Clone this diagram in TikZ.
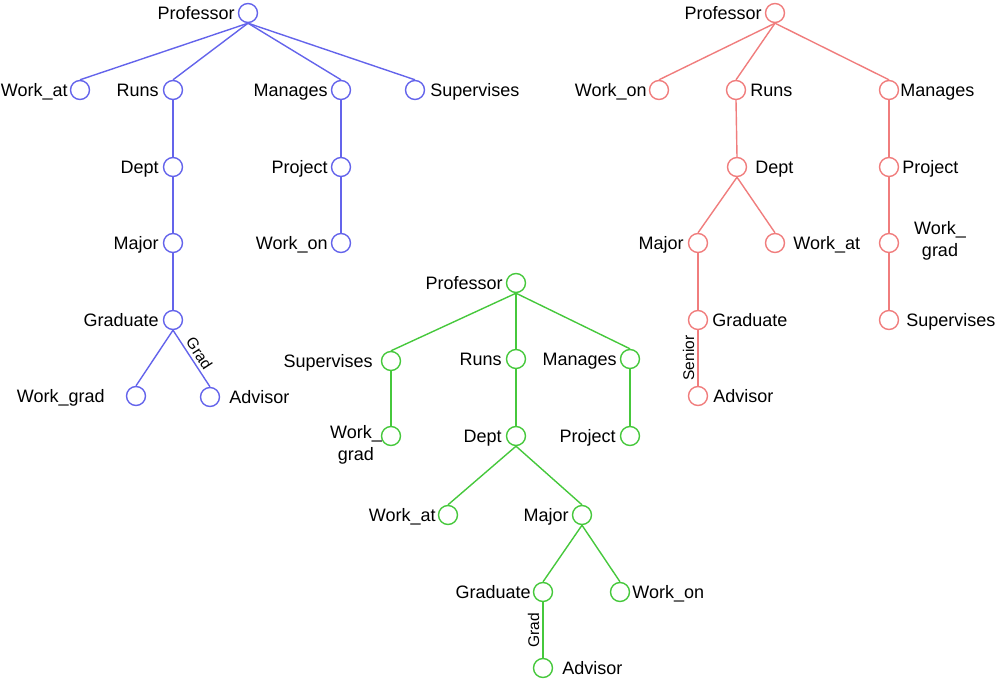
\documentclass[tikz,border=0pt]{standalone}
\usepackage{fontspec}
\setmainfont{Liberation Sans}
\begin{document}
\begin{tikzpicture}[x=1pt,y=-1pt,
  vnode/.style={circle,draw,line width=1.4pt,minimum size=19pt,inner sep=0pt},
  edge/.style={line width=1.4pt},
  lbl/.style={inner sep=0pt,font=\fontsize{18}{22}\selectfont,text=black},
  lL/.style={lbl,anchor=base east},
  lR/.style={lbl,anchor=base west},
  small/.style={inner sep=3pt,font=\fontsize{15.5}{18}\selectfont,text=black}]
\definecolor{bcol}{RGB}{100,100,235}
\definecolor{rcol}{RGB}{240,125,125}
\definecolor{gcol}{RGB}{70,200,60}
\useasboundingbox (0,0) rectangle (997,680);

% ---------------- Blue tree ----------------
\begin{scope}
\tikzset{vnode/.append style={draw=bcol},edge/.append style={draw=bcol}}
\node[vnode] (bP) at (248,13) {};
\node[vnode] (bWa) at (80,90) {};
\node[vnode] (bR) at (173,90) {};
\node[vnode] (bM) at (341,90) {};
\node[vnode] (bS) at (415,90) {};
\node[vnode] (bD) at (173,167) {};
\node[vnode] (bPr) at (341,167) {};
\node[vnode] (bMa) at (173,243) {};
\node[vnode] (bWo) at (341,243) {};
\node[vnode] (bG) at (173,320) {};
\node[vnode] (bWg) at (136,396) {};
\node[vnode] (bA) at (210,397) {};
\draw[edge] (bP.south) -- (bWa.north);
\draw[edge] (bP.south) -- (bR.north);
\draw[edge] (bP.south) -- (bM.north);
\draw[edge] (bP.south) -- (bS.north);
\draw[edge] (bR.south) -- (bD.north);
\draw[edge] (bD.south) -- (bMa.north);
\draw[edge] (bMa.south) -- (bG.north);
\draw[edge] (bM.south) -- (bPr.north);
\draw[edge] (bPr.south) -- (bWo.north);
\draw[edge] (bG.south) -- (bWg.north);
\draw[edge] (bG.south) -- node[small,sloped,above] (bgrad) {Grad} (bA.north);
\node[lL] (tbP) at ([xshift=-3pt,yshift=-6.5pt]bP.west) {Professor};
\node[lL] (tbWa) at ([xshift=-2pt,yshift=-6.5pt]bWa.west) {Work\_at};
\node[lL] (tbR) at ([xshift=-4pt,yshift=-6.5pt]bR.west) {Runs};
\node[lL] (tbM) at ([xshift=-3pt,yshift=-6.5pt]bM.west) {Manages};
\node[lR] (tbS) at ([xshift=5pt,yshift=-6.5pt]bS.east) {Supervises};
\node[lL] (tbD) at ([xshift=-4pt,yshift=-6.5pt]bD.west) {Dept};
\node[lL] (tbPr) at ([xshift=-3pt,yshift=-6.5pt]bPr.west) {Project};
\node[lL] (tbMa) at ([xshift=-4pt,yshift=-6.5pt]bMa.west) {Major};
\node[lL] (tbWo) at ([xshift=-3pt,yshift=-6.5pt]bWo.west) {Work\_on};
\node[lL] (tbG) at ([xshift=-4pt,yshift=-6.5pt]bG.west) {Graduate};
\node[lL] (tbWg) at ([xshift=-21pt,yshift=-6.5pt]bWg.west) {Work\_grad};
\node[lR] (tbA) at ([xshift=9pt,yshift=-6.5pt]bA.east) {Advisor};
\end{scope}

% ---------------- Red tree ----------------
\begin{scope}
\tikzset{vnode/.append style={draw=rcol},edge/.append style={draw=rcol}}
\node[vnode] (rP) at (775,13) {};
\node[vnode] (rWo) at (659,90) {};
\node[vnode] (rR) at (736,90) {};
\node[vnode] (rM) at (889,90) {};
\node[vnode] (rD) at (737,167) {};
\node[vnode] (rPr) at (889,167) {};
\node[vnode] (rMa) at (698,243) {};
\node[vnode] (rWa) at (775,243) {};
\node[vnode] (rWg) at (889,243) {};
\node[vnode] (rG) at (698,320) {};
\node[vnode] (rS) at (889,320) {};
\node[vnode] (rA) at (698,396) {};
\draw[edge] (rP.south) -- (rWo.north);
\draw[edge] (rP.south) -- (rR.north);
\draw[edge] (rP.south) -- (rM.north);
\draw[edge] (rR.south) -- (rD.north);
\draw[edge] (rD.south) -- (rMa.north);
\draw[edge] (rD.south) -- (rWa.north);
\draw[edge] (rMa.south) -- (rG.north);
\draw[edge] (rA.north) -- node[small,sloped,above] (rsen) {Senior} (rG.south);
\draw[edge] (rM.south) -- (rPr.north);
\draw[edge] (rPr.south) -- (rWg.north);
\draw[edge] (rWg.south) -- (rS.north);
\node[lL] (trP) at ([xshift=-3pt,yshift=-6.5pt]rP.west) {Professor};
\node[lL] (trWo) at ([xshift=-2pt,yshift=-6.5pt]rWo.west) {Work\_on};
\node[lR] (trR) at ([xshift=4pt,yshift=-6.5pt]rR.east) {Runs};
\node[lR] (trM) at ([xshift=1pt,yshift=-6.5pt]rM.east) {Manages};
\node[lR] (trD) at ([xshift=8pt,yshift=-6.5pt]rD.east) {Dept};
\node[lR] (trPr) at ([xshift=3pt,yshift=-6.5pt]rPr.east) {Project};
\node[lL] (trMa) at ([xshift=-4pt,yshift=-6.5pt]rMa.west) {Major};
\node[lR] (trWa) at ([xshift=8pt,yshift=-6.5pt]rWa.east) {Work\_at};
\node[lbl,align=center,font=\fontsize{18}{22}\selectfont] (trWg) at (940,241) {Work\_\\grad};
\node[lR] (trG) at ([xshift=4pt,yshift=-6.5pt]rG.east) {Graduate};
\node[lR] (trS) at ([xshift=7pt,yshift=-6.5pt]rS.east) {Supervises};
\node[lR] (trA) at ([xshift=5pt,yshift=-6.5pt]rA.east) {Advisor};
\end{scope}

% ---------------- Green tree ----------------
\begin{scope}
\tikzset{vnode/.append style={draw=gcol},edge/.append style={draw=gcol}}
\node[vnode] (gP) at (516,283) {};
\node[vnode] (gS) at (391,361) {};
\node[vnode] (gR) at (516,359) {};
\node[vnode] (gM) at (630,359) {};
\node[vnode] (gWg) at (391,436) {};
\node[vnode] (gD) at (516,436) {};
\node[vnode] (gPr) at (630,436) {};
\node[vnode] (gWa) at (448,515) {};
\node[vnode] (gMa) at (582,515) {};
\node[vnode] (gG) at (543,592) {};
\node[vnode] (gWo) at (620,592) {};
\node[vnode] (gA) at (543,668) {};
\draw[edge] (gP.south) -- (gS.north);
\draw[edge] (gP.south) -- (gR.north);
\draw[edge] (gP.south) -- (gM.north);
\draw[edge] (gS.south) -- (gWg.north);
\draw[edge] (gR.south) -- (gD.north);
\draw[edge] (gM.south) -- (gPr.north);
\draw[edge] (gD.south) -- (gWa.north);
\draw[edge] (gD.south) -- (gMa.north);
\draw[edge] (gMa.south) -- (gG.north);
\draw[edge] (gMa.south) -- (gWo.north);
\draw[edge] (gA.north) -- node[small,sloped,above] (ggrad) {Grad} (gG.south);
\node[lL] (tgP) at ([xshift=-3pt,yshift=-6.5pt]gP.west) {Professor};
\node[lL] (tgS) at ([xshift=-8pt,yshift=-6.5pt]gS.west) {Supervises};
\node[lL] (tgR) at ([xshift=-4pt,yshift=-6.5pt]gR.west) {Runs};
\node[lL] (tgM) at ([xshift=-3pt,yshift=-6.5pt]gM.west) {Manages};
\node[lbl,align=center,font=\fontsize{18}{22}\selectfont] (tgWg) at (356,445) {Work\_\\grad};
\node[lL] (tgD) at ([xshift=-4pt,yshift=-6.5pt]gD.west) {Dept};
\node[lL] (tgPr) at ([xshift=-4pt,yshift=-6.5pt]gPr.west) {Project};
\node[lL] (tgWa) at ([xshift=-2pt,yshift=-6.5pt]gWa.west) {Work\_at};
\node[lL] (tgMa) at ([xshift=-3pt,yshift=-6.5pt]gMa.west) {Major};
\node[lL] (tgG) at ([xshift=-2pt,yshift=-6.5pt]gG.west) {Graduate};
\node[lR] (tgWo) at ([xshift=2pt,yshift=-6.5pt]gWo.east) {Work\_on};
\node[lR] (tgA) at ([xshift=9pt,yshift=-6.5pt]gA.east) {Advisor};
\end{scope}
\end{tikzpicture}
\end{document}
